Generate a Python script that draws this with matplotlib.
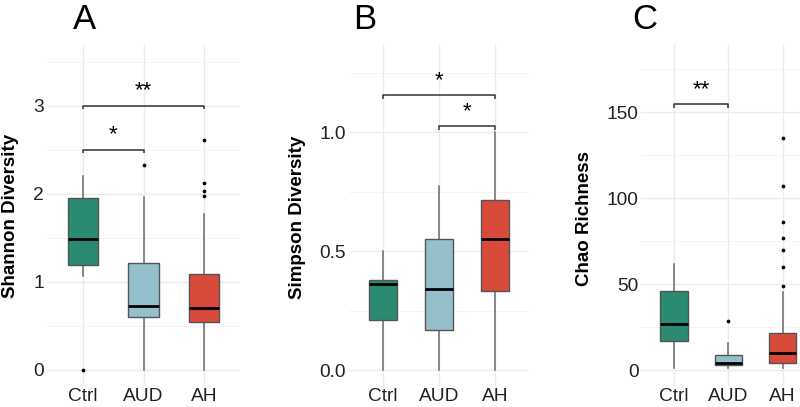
import matplotlib
matplotlib.use("Agg")
import matplotlib.pyplot as plt

plt.rcParams['font.family'] = ['Liberation Sans', 'DejaVu Sans']

groups = ["Ctrl", "AUD", "AH"]
colors = ["#2A8B72", "#94BFCB", "#D84B3A"]

# Shannon diversity: (whislo, q1, med, q3, whishi)
shannon_stats = [(1.07, 1.19, 1.49, 1.95, 2.20),
                 (0.0, 0.60, 0.73, 1.21, 1.96),
                 (0.0, 0.54, 0.70, 1.09, 1.77)]
shannon_out = [[0.0], [2.33], [2.61, 2.12, 2.03, 1.98]]

simpson_stats = [(0.0, 0.21, 0.36, 0.38, 0.50),
                 (0.0, 0.17, 0.34, 0.55, 0.775),
                 (0.0, 0.334, 0.55, 0.714, 1.0)]
simpson_out = [[], [], []]

chao_stats = [(1, 17, 26.6, 46.2, 61.5),
              (1, 2.9, 4.3, 8.7, 15.9),
              (1, 4.3, 10.1, 21.3, 45.2)]
chao_out = [[], [28.5], [134.9, 107.3, 86, 76.7, 69.8, 60.1, 48.9]]

# significance brackets: (i, j, height, label)
shannon_sig = [(1, 2, 2.5, "*"), (1, 3, 3.0, "**")]
simpson_sig = [(2, 3, 1.025, "*"), (1, 3, 1.155, "*")]
chao_sig = [(1, 2, 154.6, "**")]

panels = [
    dict(letter="A", ylabel="Shannon Diversity", stats=shannon_stats, out=shannon_out,
         sig=shannon_sig, ylim=(-0.176, 3.69), major=[0, 1, 2, 3], minor=[0.5, 1.5, 2.5, 3.5],
         ticklabels=["0", "1", "2", "3"], left=46.6, right=240.4, tick=0.04, txt=0.17,
         lx=73, ylx=10.5, ylc=216),
    dict(letter="B", ylabel="Simpson Diversity", stats=simpson_stats, out=simpson_out,
         sig=simpson_sig, ylim=(-0.065, 1.367), major=[0, 0.5, 1.0], minor=[0.25, 0.75, 1.25],
         ticklabels=["0.0", "0.5", "1.0"], left=349.0, right=528.7, tick=0.015, txt=0.06,
         lx=353, ylx=297.5, ylc=217),
    dict(letter="C", ylabel="Chao Richness", stats=chao_stats, out=chao_out,
         sig=chao_sig, ylim=(-9, 189.2), major=[0, 50, 100, 150], minor=[25, 75, 125, 175],
         ticklabels=["0", "50", "100", "150"], left=641.4, right=815.3, tick=2.0, txt=8.8,
         lx=632, ylx=584.5, ylc=218),
]

W, H = 800, 407
fig = plt.figure(figsize=(W / 100, H / 100), dpi=100)
top_px, bot_px = 45, 385.5

for p in panels:
    ax = fig.add_axes([p["left"] / W, 1 - bot_px / H, (p["right"] - p["left"]) / W,
                       (bot_px - top_px) / H])
    bstats = []
    for i, (s, o) in enumerate(zip(p["stats"], p["out"])):
        bstats.append(dict(whislo=s[0], q1=s[1], med=s[2], q3=s[3], whishi=s[4],
                           fliers=o, label=groups[i]))
    bp = ax.bxp(bstats, positions=[1, 2, 3], widths=0.5, patch_artist=True,
                showcaps=False,
                boxprops=dict(edgecolor="#555555", linewidth=1.0),
                whiskerprops=dict(color="#6A6A6A", linewidth=1.1),
                medianprops=dict(color="black", linewidth=2.0),
                flierprops=dict(marker="o", markersize=1.7, markerfacecolor="black",
                                markeredgecolor="black"))
    for patch, c in zip(bp["boxes"], colors):
        patch.set_facecolor(c)
    for w in bp["whiskers"]:
        w.set_zorder(1.5)
    ax.set_xlim(0.4, 3.6)
    ax.set_ylim(*p["ylim"])
    ax.set_yticks(p["major"])
    ax.set_yticklabels(p["ticklabels"])
    ax.set_yticks(p["minor"], minor=True)
    ax.set_xticks([1, 2, 3])
    ax.set_xticklabels(groups)
    ax.grid(True, which="major", color="#EBEBEB", linewidth=1.0)
    ax.grid(True, which="minor", axis="y", color="#F2F2F2", linewidth=0.6)
    ax.set_axisbelow(True)
    for sp in ax.spines.values():
        sp.set_visible(False)
    ax.tick_params(which="both", length=0, labelsize=13.8, colors="#222222", pad=2)
    ax.tick_params(axis="y", pad=2)
    for (i, j, h, lab) in p["sig"]:
        ax.plot([i, i, j, j], [h - p["tick"], h, h, h - p["tick"]], color="#333333",
                linewidth=1.1, solid_capstyle="butt", clip_on=False)
        ax.text((i + j) / 2, h + p["txt"], lab, ha="center", va="center", fontsize=16,
                color="black")
    fig.text(p["ylx"] / W, 1 - p["ylc"] / H, p["ylabel"],
             rotation=90, ha="center", va="center", fontsize=13.5, fontweight="bold")
    fig.text(p["lx"] / W, 1 - 3 / H, p["letter"], ha="left", va="top", fontsize=25)

fig.savefig("out.png", dpi=100)
